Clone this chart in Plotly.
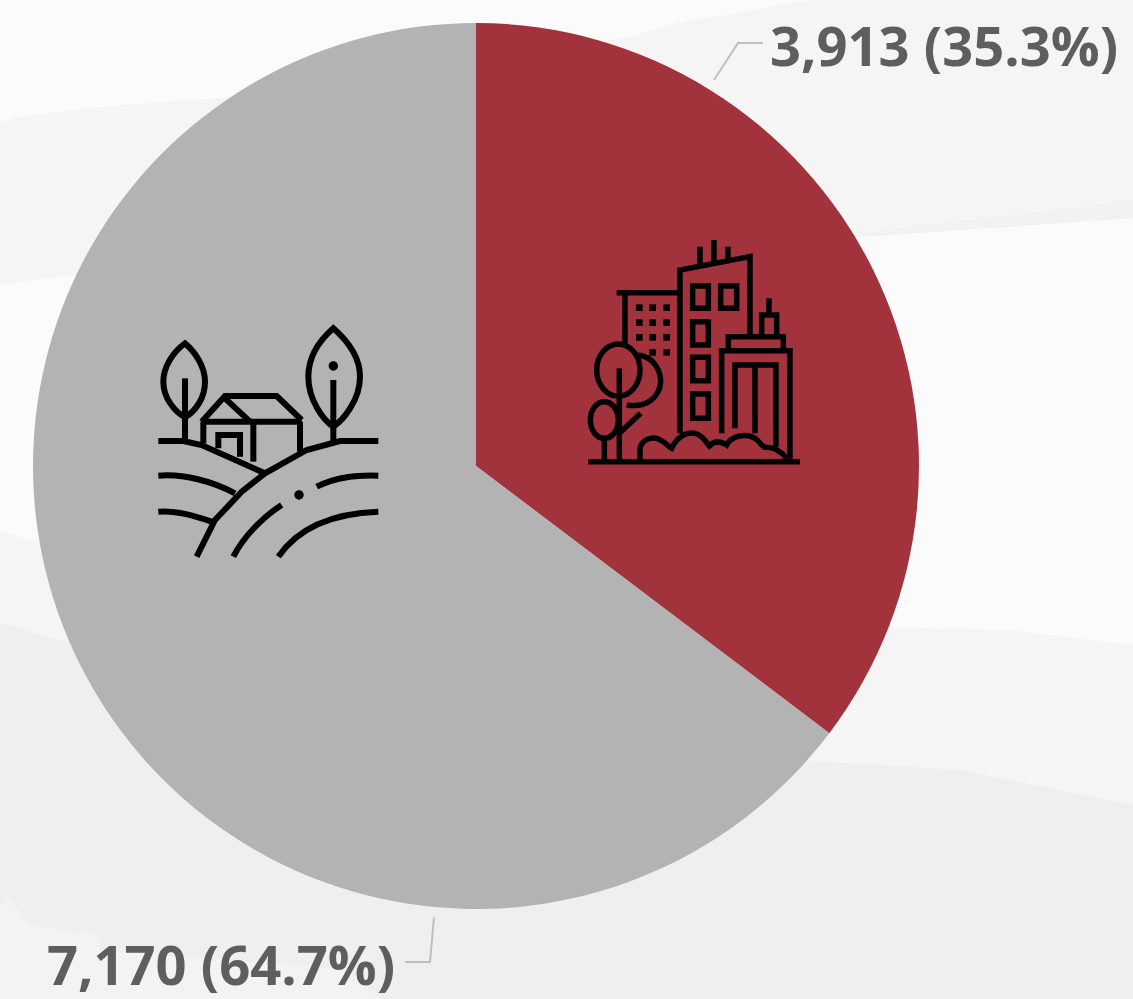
import re
import plotly.graph_objects as go

W, H = 1133, 999
categories = ["Urban", "Rural"]
values = [3913, 7170]
slice_colors = ["#A2333D", "#B3B3B3"]
label_color = "#605E5C"
total = sum(values)
labels = [f"{v:,} ({v / total:.1%})" for v in values]


def to_paper(path, ox=0.0, oy=0.0, s=1.0):
    """Map a path written in image pixels to paper coordinates."""
    nums = iter(range(10**6))

    def repl(m):
        i = next(nums)
        v = float(m.group(0))
        if i % 2 == 0:
            return f"{(ox + v * s) / W:.5f}"
        return f"{1 - (oy + v * s) / H:.5f}"

    return re.sub(r"-?\d+\.?\d*", repl, path)


shapes = []


def band(path, color):
    shapes.append(dict(type="path", xref="paper", yref="paper", layer="below",
                       path=to_paper(path), fillcolor=color, line=dict(width=0)))


def stroke(path, ox, oy, s=1 / 3, width=5.5, color="#000000"):
    shapes.append(dict(type="path", xref="paper", yref="paper", layer="above",
                       path=to_paper(path, ox, oy, s), line=dict(color=color, width=width)))


def fill(path, ox, oy, s=1 / 3, color="#000000"):
    shapes.append(dict(type="path", xref="paper", yref="paper", layer="above",
                       path=to_paper(path, ox, oy, s), fillcolor=color, line=dict(width=0)))


def rect_path(x0, y0, x1, y1):
    return f"M{x0} {y0} L{x1} {y0} L{x1} {y1} L{x0} {y1} Z"


def ell_path(cx, cy, rx, ry):
    k = 0.5523
    return (f"M{cx - rx} {cy} C{cx - rx} {cy - k * ry} {cx - k * rx} {cy - ry} {cx} {cy - ry} "
            f"C{cx + k * rx} {cy - ry} {cx + rx} {cy - k * ry} {cx + rx} {cy} "
            f"C{cx + rx} {cy + k * ry} {cx + k * rx} {cy + ry} {cx} {cy + ry} "
            f"C{cx - k * rx} {cy + ry} {cx - rx} {cy + k * ry} {cx - rx} {cy} Z")


# Faint washed-out photo bands behind the chart
band("M0 122 L30 115 L120 105 L220 98 L630 37 L675 23 L733 14 L778 5 L815 0 L1133 0 "
     "L1133 218 L860 237 L70 275 L0 285 Z", "#F5F5F5")
band("M860 233 L1133 200 L1133 218 L860 237 Z", "#F2F2F2")
band("M0 530 L30 540 L880 627 L1010 630 L1133 645 L1133 999 L0 999 Z", "#F5F5F5")
band("M0 623 L60 640 L800 760 L960 770 L1133 805 L1133 999 L0 999 Z", "#EFEFEF")
band("M0 905 L10 900 L30 925 L100 935 L100 950 L350 970 L380 999 L0 999 Z", "#F3F3F3")

# City icon, drawn in 3x-zoom units about (570, 220)
cx, cy = 570, 220
for p in [
    "M55 725 L690 725",
    "M330 640 L330 150 L540 110 L540 345",
    "M390 80 L390 135", "M432 60 L432 125", "M474 80 L474 120",
    "M140 218 L330 218", "M165 218 L165 370",
    "M148 445 L148 720", "M148 640 L212 580", "M103 655 L103 720",
    "M205 405 C250 410 272 450 272 485 C270 530 230 565 170 555",
    "M210 720 L210 690 C210 665 235 650 260 655 C280 660 295 680 305 685 "
    "C320 650 350 635 375 640 C400 645 410 670 418 678 C435 660 455 665 470 675 "
    "C485 645 530 640 555 655 C570 665 575 680 585 682 C610 680 635 695 650 715",
    "M455 640 L455 392 L660 392 L660 720",
    "M475 390 L475 350 L640 350 L640 390",
    "M495 625 L495 435 L618 435 L618 680", "M555 440 L555 640",
    "M575 345 L575 285 L620 285 L620 345", "M597 235 L597 285",
    rect_path(368, 198, 415, 265), rect_path(452, 198, 500, 265),
    rect_path(368, 305, 415, 375), rect_path(368, 412, 415, 482),
    rect_path(368, 522, 415, 595),
    ell_path(145, 450, 65, 78), ell_path(103, 600, 42, 55),
]:
    stroke(p, cx, cy)
for row, cols in [(263, (208, 248, 290)), (308, (208, 248, 290)),
                  (352, (208, 248, 290)), (397, (248, 290))]:
    for c in cols:
        fill(rect_path(c - 10, row - 10, c + 10, row + 10), cx, cy)

# Farm icon, drawn in 3x-zoom units about (140, 310)
fx, fy = 140, 310
for p in [
    "M55 393 L130 393 L185 405 L375 490",
    "M715 393 L600 393 L500 420 L375 490 L305 545 L225 630 L170 740",
    "M135 100 C100 125 70 170 70 215 C70 265 105 305 135 322 "
    "C165 305 195 265 195 215 C195 170 165 125 135 100 Z",
    "M135 205 L135 395",
    "M580 55 C540 90 505 140 505 200 C505 270 550 330 580 350 "
    "C610 330 660 270 660 200 C660 140 620 90 580 55 Z",
    "M580 210 L580 395",
    "M185 335 L255 258 L410 258 L485 330", "M185 335 L485 335", "M255 265 L330 335",
    "M190 335 L190 400", "M340 335 L340 455", "M480 335 L480 425",
    "M235 415 L235 375 L300 375 L300 440",
    "M55 497 C130 490 220 515 285 550", "M55 605 C110 600 170 620 215 635",
    "M530 530 C590 500 650 495 715 497", "M415 740 C470 660 570 610 715 605",
    "M280 740 C310 680 370 620 425 585",
]:
    stroke(p, fx, fy, width=6)
fill(ell_path(580, 168, 14, 14), fx, fy)
fill(ell_path(477, 555, 14, 14), fx, fy)

# Leader lines
for p in ["M714 80 L738 43 L763 43", "M434 917 L430 962 L405 962"]:
    shapes.append(dict(type="path", xref="paper", yref="paper", layer="above",
                       path=to_paper(p), line=dict(color="#BFBFBF", width=2)))

fig = go.Figure(go.Pie(
    labels=categories, values=values, sort=False, direction="clockwise", rotation=0,
    marker=dict(colors=slice_colors, line=dict(width=0)),
    textinfo="none", hoverinfo="label+value+percent",
    domain=dict(x=[33 / W, 919 / W], y=[1 - 909 / H, 1 - 23 / H]),
    showlegend=False,
))

font = dict(family="Open Sans", size=54.3, color=label_color, weight="bold")
annotations = [
    dict(text=labels[0], x=1120 / W, y=1 - 44.5 / H, xref="paper", yref="paper", height=62,
         xanchor="right", yanchor="middle", showarrow=False, font=font),
    dict(text=labels[1], x=397 / W, y=1 - 964 / H, xref="paper", yref="paper", height=62,
         xanchor="right", yanchor="middle", showarrow=False, font=font),
]

fig.update_layout(
    width=W, height=H, margin=dict(l=0, r=0, t=0, b=0, pad=0),
    paper_bgcolor="#FBFBFB", plot_bgcolor="#FBFBFB",
    shapes=shapes, annotations=annotations,
)
fig.write_html("out.html", config=dict(displayModeBar=False),
               post_script="document.body.style.margin='0';document.body.style.background='#FBFBFB';")
